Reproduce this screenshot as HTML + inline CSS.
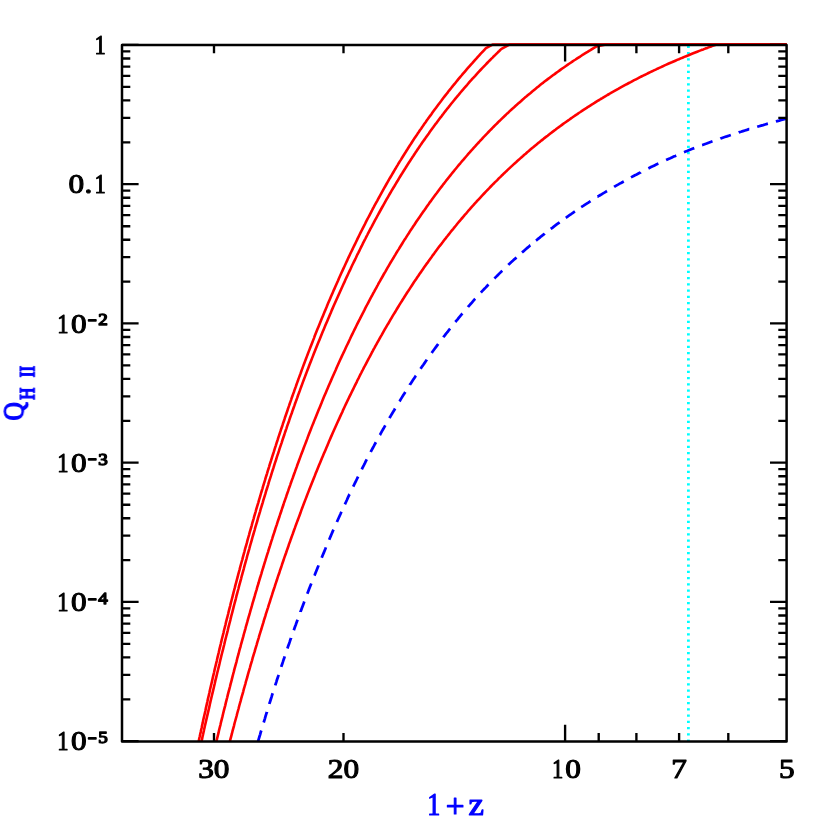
<!DOCTYPE html>
<html><head><meta charset="utf-8"><title>Q_HII vs 1+z</title>
<style>html,body{margin:0;padding:0;background:#fff;width:830px;height:830px;overflow:hidden;font-family:"Liberation Serif",serif}</style></head>
<body>
<svg width="830" height="830" viewBox="0 0 830 830" style="position:absolute;left:0;top:0">
<rect width="830" height="830" fill="#fff"/>
<line x1="688.4" y1="45.8" x2="688.4" y2="741.4" stroke="#00ffff" stroke-width="2.8" stroke-dasharray="2.2 4.05"/>
<path d="M198.7 741.4 L199.3 738.3 L199.8 736.3 L200.2 734.2 L200.7 732.1 L201.1 730.0 L201.6 728.0 L202.0 725.9 L202.7 722.9 L203.3 719.8 L204.0 716.7 L204.7 713.7 L205.4 710.7 L206.0 707.6 L206.7 704.6 L207.4 701.6 L208.0 698.6 L208.7 695.7 L209.4 692.7 L210.0 689.7 L210.7 686.8 L211.4 683.9 L212.1 680.9 L212.7 678.0 L213.4 675.1 L214.1 672.2 L214.7 669.3 L215.4 666.5 L216.1 663.6 L216.8 660.7 L217.4 657.9 L218.1 655.1 L218.8 652.2 L219.4 649.4 L220.1 646.6 L220.8 643.8 L221.4 641.1 L222.1 638.3 L222.8 635.5 L223.5 632.8 L224.1 630.0 L224.8 627.3 L225.5 624.6 L226.1 621.9 L226.8 619.2 L227.5 616.5 L228.2 613.8 L228.8 611.1 L229.5 608.4 L230.2 605.8 L230.8 603.1 L231.5 600.5 L232.2 597.9 L232.9 595.2 L233.5 592.6 L234.2 590.0 L234.9 587.4 L235.5 584.9 L236.2 582.3 L236.9 579.7 L237.6 577.2 L238.2 574.6 L238.9 572.1 L239.6 569.6 L240.2 567.1 L240.9 564.5 L241.6 562.0 L242.3 559.6 L242.9 557.1 L243.6 554.6 L244.3 552.1 L244.9 549.7 L245.6 547.2 L246.3 544.8 L247.0 542.4 L247.6 539.9 L248.3 537.5 L249.0 535.1 L249.6 532.7 L250.3 530.3 L251.0 528.0 L251.7 525.6 L252.3 523.2 L253.0 520.9 L253.7 518.5 L254.3 516.2 L255.0 513.9 L255.7 511.5 L256.3 509.2 L257.0 506.9 L257.7 504.6 L258.4 502.3 L259.0 500.1 L259.7 497.8 L260.4 495.5 L261.0 493.3 L261.7 491.0 L262.4 488.8 L263.0 486.6 L263.7 484.3 L264.4 482.1 L265.1 479.9 L265.7 477.7 L266.4 475.5 L267.1 473.3 L267.7 471.2 L268.4 469.0 L269.1 466.8 L269.7 464.7 L270.4 462.5 L271.1 460.4 L271.7 458.3 L272.4 456.1 L273.1 454.0 L273.8 451.9 L274.4 449.8 L275.1 447.7 L275.8 445.6 L276.4 443.6 L277.1 441.5 L277.8 439.4 L278.4 437.4 L279.1 435.3 L279.8 433.3 L280.5 431.2 L281.1 429.2 L281.8 427.2 L282.5 425.2 L283.1 423.2 L283.8 421.2 L284.5 419.2 L285.1 417.2 L285.8 415.2 L286.5 413.2 L287.2 411.3 L287.8 409.3 L288.5 407.4 L289.2 405.4 L289.8 403.5 L290.5 401.6 L291.2 399.6 L291.8 397.7 L292.5 395.8 L293.2 393.9 L293.9 392.0 L294.5 390.1 L295.2 388.2 L295.9 386.4 L296.5 384.5 L297.2 382.6 L297.9 380.8 L298.5 378.9 L299.2 377.1 L299.9 375.2 L300.6 373.4 L301.4 371.0 L302.3 368.6 L303.2 366.1 L304.1 363.8 L305.0 361.4 L305.9 359.0 L306.8 356.6 L307.7 354.3 L308.6 351.9 L309.5 349.6 L310.4 347.3 L311.3 345.0 L312.2 342.7 L313.1 340.4 L314.0 338.1 L314.8 335.8 L315.7 333.6 L316.6 331.3 L317.5 329.1 L318.4 326.9 L319.3 324.7 L320.2 322.5 L321.1 320.3 L322.0 318.1 L322.9 315.9 L323.8 313.8 L324.7 311.6 L325.6 309.5 L326.5 307.3 L327.3 305.2 L328.2 303.1 L329.1 301.0 L330.0 298.9 L330.9 296.8 L331.8 294.7 L332.7 292.7 L333.6 290.6 L334.5 288.6 L335.4 286.5 L336.3 284.5 L337.2 282.5 L338.1 280.5 L338.9 278.5 L339.8 276.5 L340.7 274.5 L341.6 272.5 L342.5 270.6 L343.4 268.6 L344.3 266.7 L345.2 264.8 L346.1 262.8 L347.0 260.9 L347.8 259.0 L348.7 257.1 L349.6 255.2 L350.5 253.3 L351.4 251.5 L352.3 249.6 L353.2 247.7 L354.1 245.9 L355.0 244.1 L355.9 242.2 L356.8 240.4 L357.6 238.6 L358.5 236.8 L359.4 235.0 L360.3 233.2 L361.2 231.4 L362.1 229.7 L363.0 227.9 L363.9 226.1 L364.8 224.4 L365.6 222.7 L366.5 220.9 L367.4 219.2 L368.3 217.5 L369.2 215.8 L370.1 214.1 L371.0 212.4 L371.9 210.7 L372.7 209.0 L373.6 207.4 L374.5 205.7 L375.4 204.0 L376.3 202.4 L377.2 200.8 L378.1 199.1 L379.0 197.5 L379.9 195.9 L381.0 193.9 L382.1 191.9 L383.2 189.9 L384.3 187.9 L385.4 186.0 L386.5 184.0 L387.6 182.1 L388.7 180.1 L389.8 178.2 L391.0 176.3 L392.1 174.4 L393.2 172.5 L394.3 170.6 L395.4 168.8 L396.5 166.9 L397.6 165.1 L398.7 163.2 L399.8 161.4 L401.0 159.6 L402.1 157.8 L403.2 156.0 L404.3 154.2 L405.4 152.5 L406.5 150.7 L407.6 149.0 L408.7 147.2 L409.8 145.5 L411.0 143.8 L412.1 142.0 L413.2 140.3 L414.3 138.6 L415.4 137.0 L416.6 135.3 L417.7 133.6 L418.8 132.0 L419.9 130.3 L421.1 128.7 L422.2 127.1 L423.3 125.4 L424.4 123.8 L425.6 122.2 L426.7 120.6 L427.8 119.1 L428.9 117.5 L430.1 115.9 L431.2 114.4 L432.3 112.8 L433.4 111.3 L434.5 109.8 L435.7 108.2 L436.8 106.7 L437.9 105.2 L439.0 103.7 L440.2 102.2 L441.3 100.8 L442.4 99.3 L443.5 97.8 L444.6 96.4 L445.8 94.9 L446.9 93.5 L448.0 92.1 L449.1 90.6 L450.3 89.2 L451.4 87.8 L452.5 86.4 L453.6 85.0 L454.8 83.7 L456.1 82.0 L457.4 80.4 L458.8 78.7 L460.1 77.1 L461.5 75.5 L462.8 73.9 L464.2 72.3 L465.5 70.8 L466.9 69.2 L468.2 67.7 L469.6 66.1 L470.9 64.6 L472.3 63.1 L473.6 61.6 L474.9 60.1 L476.3 58.6 L477.6 57.1 L479.0 55.6 L480.3 54.1 L481.7 52.7 L483.0 51.3 L484.4 49.8 L485.7 48.4 L486.0 48.1 L492.5 44.6 L786.6 44.6" fill="none" stroke="#ff0000" stroke-width="2.6" stroke-linejoin="round"/>
<path d="M201.5 741.4 L202.1 738.9 L202.5 736.8 L203.0 734.7 L203.4 732.7 L203.9 730.6 L204.3 728.6 L205.0 725.5 L205.7 722.5 L206.4 719.4 L207.1 716.4 L207.8 713.4 L208.5 710.4 L209.2 707.4 L209.8 704.4 L210.5 701.4 L211.2 698.5 L211.9 695.5 L212.6 692.6 L213.3 689.7 L214.0 686.7 L214.7 683.8 L215.3 680.9 L216.0 678.1 L216.7 675.2 L217.4 672.3 L218.1 669.5 L218.8 666.6 L219.5 663.8 L220.1 661.0 L220.8 658.1 L221.5 655.3 L222.2 652.5 L222.9 649.8 L223.6 647.0 L224.3 644.2 L224.9 641.5 L225.6 638.7 L226.3 636.0 L227.0 633.3 L227.7 630.6 L228.3 627.9 L229.0 625.2 L229.7 622.5 L230.4 619.8 L231.0 617.1 L231.7 614.5 L232.4 611.8 L233.1 609.2 L233.7 606.6 L234.4 604.0 L235.1 601.4 L235.8 598.8 L236.4 596.2 L237.1 593.6 L237.8 591.0 L238.5 588.5 L239.1 585.9 L239.8 583.4 L240.5 580.9 L241.2 578.3 L241.8 575.8 L242.5 573.3 L243.2 570.8 L243.9 568.3 L244.5 565.9 L245.2 563.4 L245.9 560.9 L246.6 558.5 L247.2 556.0 L247.9 553.6 L248.6 551.2 L249.3 548.8 L249.9 546.4 L250.6 544.0 L251.3 541.6 L252.0 539.2 L252.6 536.8 L253.3 534.5 L254.0 532.1 L254.7 529.8 L255.3 527.4 L256.0 525.1 L256.7 522.8 L257.4 520.5 L258.0 518.2 L258.7 515.9 L259.4 513.6 L260.1 511.3 L260.7 509.0 L261.4 506.8 L262.1 504.5 L262.8 502.3 L263.4 500.0 L264.1 497.8 L264.8 495.6 L265.5 493.4 L266.1 491.2 L266.8 489.0 L267.5 486.8 L268.2 484.6 L268.8 482.4 L269.5 480.2 L270.2 478.1 L270.9 475.9 L271.5 473.8 L272.2 471.7 L272.9 469.5 L273.6 467.4 L274.2 465.3 L274.9 463.2 L275.6 461.1 L276.3 459.0 L276.9 456.9 L277.6 454.9 L278.3 452.8 L279.0 450.7 L279.6 448.7 L280.3 446.6 L281.0 444.6 L281.7 442.6 L282.3 440.6 L283.0 438.5 L283.7 436.5 L284.4 434.5 L285.0 432.5 L285.7 430.5 L286.4 428.6 L287.0 426.6 L287.7 424.6 L288.4 422.7 L289.1 420.7 L289.7 418.8 L290.4 416.8 L291.1 414.9 L291.8 413.0 L292.4 411.1 L293.1 409.2 L293.8 407.3 L294.5 405.4 L295.1 403.5 L295.8 401.6 L296.5 399.7 L297.2 397.9 L297.8 396.0 L298.5 394.1 L299.2 392.3 L299.9 390.4 L300.5 388.6 L301.2 386.8 L302.1 384.4 L303.0 381.9 L303.9 379.5 L304.8 377.1 L305.7 374.8 L306.6 372.4 L307.5 370.0 L308.4 367.7 L309.3 365.3 L310.2 363.0 L311.1 360.7 L312.0 358.4 L312.9 356.1 L313.8 353.8 L314.7 351.6 L315.6 349.3 L316.5 347.1 L317.4 344.8 L318.3 342.6 L319.2 340.4 L320.1 338.2 L321.0 336.0 L321.9 333.8 L322.8 331.6 L323.7 329.4 L324.6 327.3 L325.5 325.1 L326.4 323.0 L327.3 320.9 L328.2 318.8 L329.1 316.7 L330.0 314.6 L330.9 312.5 L331.7 310.4 L332.6 308.4 L333.5 306.3 L334.4 304.3 L335.3 302.2 L336.2 300.2 L337.1 298.2 L338.0 296.2 L338.9 294.2 L339.8 292.2 L340.7 290.2 L341.6 288.2 L342.5 286.3 L343.4 284.3 L344.3 282.4 L345.1 280.5 L346.0 278.5 L346.9 276.6 L347.8 274.7 L348.7 272.8 L349.6 270.9 L350.5 269.1 L351.3 267.2 L352.2 265.3 L353.1 263.5 L354.0 261.6 L354.9 259.8 L355.8 258.0 L356.6 256.2 L357.5 254.3 L358.4 252.6 L359.3 250.8 L360.2 249.0 L361.1 247.2 L362.0 245.4 L362.8 243.7 L363.7 241.9 L364.6 240.2 L365.5 238.5 L366.4 236.7 L367.3 235.0 L368.1 233.3 L369.0 231.6 L369.9 229.9 L370.8 228.2 L371.7 226.6 L372.6 224.9 L373.5 223.2 L374.3 221.6 L375.2 219.9 L376.1 218.3 L377.0 216.7 L377.9 215.0 L379.0 213.0 L380.1 211.0 L381.2 209.0 L382.3 207.0 L383.4 205.1 L384.5 203.1 L385.6 201.2 L386.7 199.2 L387.8 197.3 L388.9 195.4 L390.0 193.5 L391.1 191.6 L392.2 189.7 L393.4 187.8 L394.5 186.0 L395.6 184.1 L396.7 182.3 L397.8 180.5 L398.9 178.6 L400.0 176.8 L401.1 175.0 L402.2 173.3 L403.3 171.5 L404.4 169.7 L405.5 168.0 L406.6 166.2 L407.7 164.5 L408.8 162.8 L410.0 161.0 L411.1 159.3 L412.2 157.6 L413.3 156.0 L414.4 154.3 L415.5 152.6 L416.6 151.0 L417.7 149.3 L418.8 147.7 L419.9 146.1 L421.0 144.4 L422.1 142.8 L423.2 141.2 L424.4 139.6 L425.5 138.1 L426.6 136.5 L427.7 134.9 L428.8 133.4 L429.9 131.8 L431.0 130.3 L432.1 128.8 L433.2 127.3 L434.3 125.7 L435.4 124.2 L436.6 122.8 L437.7 121.3 L438.8 119.8 L439.9 118.3 L441.0 116.9 L442.1 115.4 L443.2 114.0 L444.3 112.5 L445.4 111.1 L446.5 109.7 L447.6 108.3 L448.8 106.9 L449.9 105.5 L451.2 103.8 L452.5 102.2 L453.9 100.5 L455.2 98.9 L456.5 97.3 L457.9 95.7 L459.2 94.1 L460.5 92.5 L461.9 90.9 L463.2 89.4 L464.5 87.8 L465.8 86.3 L467.2 84.8 L468.5 83.2 L469.8 81.7 L471.2 80.2 L472.5 78.7 L473.8 77.3 L475.2 75.8 L476.5 74.3 L477.8 72.9 L479.2 71.4 L480.5 70.0 L481.8 68.6 L483.2 67.2 L484.5 65.8 L485.9 64.4 L487.2 63.0 L488.5 61.6 L489.9 60.3 L491.2 58.9 L492.6 57.6 L493.9 56.2 L495.3 54.9 L496.6 53.6 L497.9 52.3 L499.3 51.0 L500.6 49.7 L501.5 48.8 L509.4 44.6 L786.6 44.6" fill="none" stroke="#ff0000" stroke-width="2.6" stroke-linejoin="round"/>
<path d="M216.4 741.4 L217.1 738.5 L217.8 735.7 L218.5 732.9 L219.1 730.1 L219.8 727.3 L220.5 724.6 L221.1 721.8 L221.8 719.1 L222.5 716.4 L223.1 713.7 L223.8 710.9 L224.5 708.2 L225.2 705.6 L225.8 702.9 L226.5 700.2 L227.2 697.5 L227.8 694.9 L228.5 692.2 L229.2 689.6 L229.9 687.0 L230.5 684.4 L231.2 681.8 L231.9 679.2 L232.5 676.6 L233.2 674.0 L233.9 671.4 L234.5 668.9 L235.2 666.3 L235.9 663.8 L236.6 661.3 L237.2 658.7 L237.9 656.2 L238.6 653.7 L239.2 651.2 L239.9 648.7 L240.6 646.3 L241.2 643.8 L241.9 641.3 L242.6 638.9 L243.3 636.4 L243.9 634.0 L244.6 631.6 L245.3 629.1 L245.9 626.7 L246.6 624.3 L247.3 621.9 L247.9 619.6 L248.6 617.2 L249.3 614.8 L250.0 612.4 L250.6 610.1 L251.3 607.8 L252.0 605.4 L252.6 603.1 L253.3 600.8 L254.0 598.5 L254.7 596.2 L255.3 593.9 L256.0 591.6 L256.7 589.3 L257.3 587.0 L258.0 584.8 L258.7 582.5 L259.3 580.3 L260.0 578.0 L260.7 575.8 L261.4 573.6 L262.0 571.4 L262.7 569.2 L263.4 567.0 L264.0 564.8 L264.7 562.6 L265.4 560.4 L266.0 558.3 L266.7 556.1 L267.4 553.9 L268.1 551.8 L268.7 549.7 L269.4 547.5 L270.1 545.4 L270.7 543.3 L271.4 541.2 L272.1 539.1 L272.7 537.0 L273.4 534.9 L274.1 532.8 L274.8 530.8 L275.4 528.7 L276.1 526.6 L276.8 524.6 L277.4 522.6 L278.1 520.5 L278.8 518.5 L279.5 516.5 L280.1 514.5 L280.8 512.5 L281.5 510.5 L282.1 508.5 L282.8 506.5 L283.5 504.5 L284.1 502.5 L284.8 500.6 L285.5 498.6 L286.2 496.7 L286.8 494.7 L287.5 492.8 L288.2 490.9 L288.8 488.9 L289.5 487.0 L290.2 485.1 L290.8 483.2 L291.5 481.3 L292.2 479.4 L292.9 477.5 L293.5 475.7 L294.2 473.8 L294.9 471.9 L295.5 470.1 L296.2 468.2 L296.9 466.4 L297.5 464.5 L298.2 462.7 L299.1 460.3 L300.0 457.9 L300.9 455.4 L301.8 453.0 L302.7 450.7 L303.6 448.3 L304.5 445.9 L305.4 443.6 L306.3 441.2 L307.2 438.9 L308.0 436.6 L308.9 434.3 L309.8 432.0 L310.7 429.7 L311.6 427.4 L312.5 425.1 L313.4 422.9 L314.3 420.6 L315.2 418.4 L316.1 416.2 L317.0 414.0 L317.9 411.8 L318.8 409.6 L319.7 407.4 L320.6 405.2 L321.5 403.0 L322.3 400.9 L323.2 398.7 L324.1 396.6 L325.0 394.5 L325.9 392.4 L326.8 390.3 L327.7 388.2 L328.6 386.1 L329.5 384.0 L330.4 381.9 L331.3 379.9 L332.2 377.8 L333.1 375.8 L334.0 373.8 L334.9 371.8 L335.8 369.7 L336.6 367.7 L337.5 365.8 L338.4 363.8 L339.3 361.8 L340.2 359.8 L341.1 357.9 L342.0 355.9 L342.9 354.0 L343.8 352.1 L344.7 350.2 L345.6 348.2 L346.5 346.3 L347.4 344.5 L348.3 342.6 L349.2 340.7 L350.1 338.8 L350.9 337.0 L351.8 335.1 L352.7 333.3 L353.6 331.5 L354.5 329.6 L355.4 327.8 L356.3 326.0 L357.2 324.2 L358.1 322.4 L359.0 320.6 L359.9 318.9 L360.8 317.1 L361.7 315.3 L362.6 313.6 L363.5 311.9 L364.4 310.1 L365.2 308.4 L366.1 306.7 L367.0 305.0 L367.9 303.3 L368.8 301.6 L369.7 299.9 L370.6 298.2 L371.5 296.5 L372.4 294.9 L373.3 293.2 L374.2 291.6 L375.1 289.9 L376.0 288.3 L376.9 286.7 L377.8 285.0 L378.6 283.4 L379.8 281.4 L380.9 279.4 L382.0 277.5 L383.1 275.5 L384.2 273.5 L385.4 271.6 L386.5 269.6 L387.6 267.7 L388.7 265.8 L389.8 263.9 L390.9 262.0 L392.1 260.1 L393.2 258.3 L394.3 256.4 L395.4 254.6 L396.5 252.7 L397.6 250.9 L398.8 249.1 L399.9 247.3 L401.0 245.5 L402.1 243.7 L403.2 241.9 L404.3 240.1 L405.5 238.4 L406.6 236.6 L407.7 234.9 L408.8 233.2 L409.9 231.4 L411.0 229.7 L412.2 228.0 L413.3 226.3 L414.4 224.7 L415.5 223.0 L416.6 221.3 L417.7 219.7 L418.9 218.0 L420.0 216.4 L421.1 214.8 L422.2 213.2 L423.3 211.6 L424.5 210.0 L425.6 208.4 L426.7 206.8 L427.8 205.2 L428.9 203.7 L430.0 202.1 L431.2 200.6 L432.3 199.0 L433.4 197.5 L434.5 196.0 L435.6 194.5 L436.8 193.0 L437.9 191.5 L439.0 190.0 L440.1 188.5 L441.2 187.1 L442.4 185.6 L443.5 184.1 L444.6 182.7 L445.7 181.3 L446.8 179.8 L448.0 178.4 L449.1 177.0 L450.2 175.6 L451.3 174.2 L452.4 172.8 L453.6 171.4 L454.9 169.8 L456.2 168.2 L457.6 166.5 L458.9 164.9 L460.3 163.3 L461.6 161.7 L463.0 160.2 L464.3 158.6 L465.7 157.0 L467.0 155.5 L468.3 153.9 L469.7 152.4 L471.0 150.9 L472.4 149.4 L473.7 147.9 L475.1 146.4 L476.4 144.9 L477.8 143.4 L479.1 142.0 L480.4 140.5 L481.8 139.1 L483.1 137.6 L484.5 136.2 L485.8 134.8 L487.2 133.4 L488.5 132.0 L489.8 130.6 L491.2 129.3 L492.5 127.9 L493.9 126.5 L495.2 125.2 L496.6 123.8 L497.9 122.5 L499.2 121.2 L500.6 119.9 L501.9 118.6 L503.3 117.3 L504.6 116.0 L506.0 114.7 L507.3 113.4 L508.7 112.2 L510.0 110.9 L511.3 109.7 L512.7 108.4 L514.1 107.2 L515.4 106.0 L516.8 104.8 L518.1 103.6 L519.5 102.4 L520.9 101.2 L522.2 100.0 L523.6 98.8 L524.9 97.6 L526.3 96.5 L527.7 95.3 L529.0 94.2 L530.6 92.9 L532.2 91.5 L533.8 90.2 L535.4 88.9 L537.0 87.6 L538.5 86.4 L540.1 85.1 L541.7 83.8 L543.3 82.6 L544.9 81.3 L546.5 80.1 L548.1 78.9 L549.7 77.7 L551.3 76.5 L552.9 75.3 L554.6 74.1 L556.2 72.9 L557.8 71.8 L559.4 70.6 L561.0 69.4 L562.6 68.3 L564.2 67.2 L565.9 66.0 L567.5 64.9 L569.1 63.8 L570.7 62.7 L572.3 61.6 L573.9 60.5 L575.6 59.5 L577.2 58.4 L578.9 57.3 L580.5 56.3 L582.1 55.2 L583.8 54.2 L585.4 53.2 L587.1 52.2 L588.7 51.1 L590.4 50.1 L592.0 49.1 L593.6 48.1 L595.3 47.2 L596.2 46.6 L606.0 44.6 L786.6 44.6" fill="none" stroke="#ff0000" stroke-width="2.6" stroke-linejoin="round"/>
<path d="M229.9 741.4 L230.5 738.9 L231.2 736.3 L231.9 733.7 L232.5 731.2 L233.2 728.6 L233.9 726.1 L234.5 723.5 L235.2 721.0 L235.9 718.5 L236.6 716.0 L237.2 713.5 L237.9 711.0 L238.6 708.5 L239.2 706.0 L239.9 703.5 L240.6 701.1 L241.2 698.6 L241.9 696.2 L242.6 693.8 L243.3 691.3 L243.9 688.9 L244.6 686.5 L245.3 684.1 L245.9 681.7 L246.6 679.3 L247.3 677.0 L247.9 674.6 L248.6 672.2 L249.3 669.9 L250.0 667.5 L250.6 665.2 L251.3 662.9 L252.0 660.6 L252.6 658.2 L253.3 655.9 L254.0 653.7 L254.7 651.4 L255.3 649.1 L256.0 646.8 L256.7 644.6 L257.3 642.3 L258.0 640.1 L258.7 637.8 L259.3 635.6 L260.0 633.4 L260.7 631.2 L261.4 629.0 L262.0 626.8 L262.7 624.6 L263.4 622.4 L264.0 620.2 L264.7 618.0 L265.4 615.9 L266.0 613.7 L266.7 611.6 L267.4 609.4 L268.1 607.3 L268.7 605.2 L269.4 603.1 L270.1 601.0 L270.7 598.9 L271.4 596.8 L272.1 594.7 L272.7 592.6 L273.4 590.5 L274.1 588.5 L274.8 586.4 L275.4 584.4 L276.1 582.3 L276.8 580.3 L277.4 578.3 L278.1 576.2 L278.8 574.2 L279.5 572.2 L280.1 570.2 L280.8 568.2 L281.5 566.2 L282.1 564.3 L282.8 562.3 L283.5 560.3 L284.1 558.4 L284.8 556.4 L285.5 554.5 L286.2 552.5 L286.8 550.6 L287.5 548.7 L288.2 546.8 L288.8 544.8 L289.5 542.9 L290.2 541.0 L290.8 539.2 L291.5 537.3 L292.2 535.4 L292.9 533.5 L293.5 531.7 L294.2 529.8 L294.9 527.9 L295.5 526.1 L296.2 524.3 L296.9 522.4 L297.8 520.0 L298.7 517.6 L299.6 515.2 L300.5 512.8 L301.3 510.4 L302.2 508.0 L303.1 505.6 L304.0 503.3 L304.9 500.9 L305.8 498.6 L306.7 496.3 L307.6 493.9 L308.5 491.6 L309.4 489.3 L310.3 487.1 L311.2 484.8 L312.1 482.5 L313.0 480.3 L313.9 478.0 L314.8 475.8 L315.6 473.6 L316.5 471.4 L317.4 469.2 L318.3 467.0 L319.2 464.8 L320.1 462.7 L321.0 460.5 L321.9 458.3 L322.8 456.2 L323.7 454.1 L324.6 452.0 L325.5 449.9 L326.4 447.8 L327.3 445.7 L328.2 443.6 L329.0 441.5 L329.9 439.4 L330.8 437.4 L331.7 435.4 L332.6 433.3 L333.5 431.3 L334.4 429.3 L335.3 427.3 L336.2 425.3 L337.1 423.3 L338.0 421.3 L338.9 419.4 L339.8 417.4 L340.7 415.4 L341.6 413.5 L342.5 411.6 L343.3 409.6 L344.2 407.7 L345.1 405.8 L346.0 403.9 L346.9 402.0 L347.8 400.2 L348.7 398.3 L349.6 396.4 L350.5 394.6 L351.4 392.7 L352.3 390.9 L353.2 389.1 L354.1 387.2 L355.0 385.4 L355.9 383.6 L356.8 381.8 L357.6 380.0 L358.5 378.3 L359.4 376.5 L360.3 374.7 L361.2 373.0 L362.1 371.2 L363.0 369.5 L363.9 367.7 L364.8 366.0 L365.7 364.3 L366.6 362.6 L367.5 360.9 L368.4 359.2 L369.3 357.5 L370.2 355.8 L371.1 354.2 L371.9 352.5 L372.8 350.9 L373.7 349.2 L374.6 347.6 L375.5 345.9 L376.4 344.3 L377.3 342.7 L378.2 341.1 L379.3 339.1 L380.4 337.1 L381.6 335.1 L382.7 333.1 L383.8 331.2 L384.9 329.2 L386.0 327.3 L387.1 325.4 L388.3 323.5 L389.4 321.6 L390.5 319.7 L391.6 317.8 L392.7 315.9 L393.8 314.1 L395.0 312.2 L396.1 310.4 L397.2 308.5 L398.3 306.7 L399.4 304.9 L400.5 303.1 L401.7 301.3 L402.8 299.5 L403.9 297.8 L405.0 296.0 L406.1 294.3 L407.2 292.5 L408.4 290.8 L409.5 289.1 L410.6 287.4 L411.7 285.7 L412.8 284.0 L413.9 282.3 L415.1 280.6 L416.2 279.0 L417.3 277.3 L418.4 275.7 L419.5 274.0 L420.7 272.4 L421.8 270.8 L422.9 269.2 L424.0 267.6 L425.1 266.0 L426.2 264.4 L427.4 262.9 L428.5 261.3 L429.6 259.7 L430.7 258.2 L431.8 256.7 L432.9 255.1 L434.1 253.6 L435.2 252.1 L436.3 250.6 L437.4 249.1 L438.5 247.6 L439.6 246.1 L440.8 244.7 L441.9 243.2 L443.0 241.8 L444.1 240.3 L445.2 238.9 L446.3 237.4 L447.5 236.0 L448.6 234.6 L449.7 233.2 L450.8 231.8 L451.9 230.4 L453.3 228.8 L454.6 227.1 L456.0 225.5 L457.3 223.8 L458.6 222.2 L460.0 220.6 L461.3 219.0 L462.7 217.5 L464.0 215.9 L465.3 214.3 L466.7 212.8 L468.0 211.2 L469.4 209.7 L470.7 208.2 L472.0 206.7 L473.4 205.2 L474.7 203.7 L476.1 202.2 L477.4 200.7 L478.7 199.3 L480.1 197.8 L481.4 196.4 L482.8 194.9 L484.1 193.5 L485.4 192.1 L486.8 190.7 L488.1 189.3 L489.5 187.9 L490.8 186.5 L492.1 185.1 L493.5 183.8 L494.8 182.4 L496.2 181.1 L497.5 179.8 L498.8 178.4 L500.2 177.1 L501.5 175.8 L502.9 174.5 L504.2 173.2 L505.6 171.9 L506.9 170.7 L508.2 169.4 L509.6 168.1 L510.9 166.9 L512.3 165.6 L513.6 164.4 L514.9 163.2 L516.3 162.0 L517.6 160.8 L519.0 159.6 L520.3 158.4 L521.6 157.2 L523.0 156.0 L524.3 154.8 L525.7 153.7 L527.2 152.3 L528.8 151.0 L530.4 149.6 L531.9 148.3 L533.5 147.0 L535.0 145.7 L536.6 144.4 L538.2 143.1 L539.7 141.9 L541.3 140.6 L542.9 139.4 L544.4 138.1 L546.0 136.9 L547.6 135.7 L549.1 134.5 L550.7 133.2 L552.2 132.1 L553.8 130.9 L555.4 129.7 L556.9 128.5 L558.5 127.4 L560.1 126.2 L561.6 125.1 L563.2 123.9 L564.8 122.8 L566.3 121.7 L567.9 120.6 L569.5 119.5 L571.0 118.4 L572.6 117.3 L574.1 116.2 L575.7 115.1 L577.3 114.1 L578.8 113.0 L580.4 112.0 L582.0 110.9 L583.5 109.9 L585.1 108.9 L586.7 107.9 L588.2 106.8 L589.8 105.8 L591.3 104.8 L592.9 103.9 L594.5 102.9 L596.0 101.9 L597.6 100.9 L599.2 100.0 L600.7 99.0 L602.3 98.1 L603.9 97.1 L605.6 96.1 L607.4 95.0 L609.2 94.0 L611.0 92.9 L612.8 91.9 L614.6 90.9 L616.4 89.9 L618.2 88.9 L619.9 87.9 L621.7 86.9 L623.5 85.9 L625.3 84.9 L627.1 84.0 L628.9 83.0 L630.7 82.1 L632.5 81.1 L634.2 80.2 L636.0 79.3 L637.8 78.4 L639.6 77.4 L641.4 76.5 L643.2 75.6 L645.0 74.8 L646.8 73.9 L648.5 73.0 L650.3 72.1 L652.1 71.3 L653.9 70.4 L655.7 69.6 L657.5 68.7 L659.3 67.9 L661.1 67.1 L662.8 66.3 L664.6 65.4 L666.4 64.6 L668.2 63.8 L670.0 63.0 L671.8 62.3 L673.6 61.5 L675.4 60.7 L677.1 59.9 L678.9 59.2 L680.7 58.4 L682.5 57.7 L684.3 56.9 L686.1 56.2 L687.9 55.5 L689.7 54.7 L691.4 54.0 L693.2 53.3 L695.2 52.5 L697.2 51.7 L699.3 50.9 L701.3 50.1 L703.3 49.4 L705.3 48.6 L707.3 47.9 L709.3 47.1 L711.3 46.4 L713.3 45.6 L715.3 44.9 L716.0 44.6 L716.1 44.6 L786.6 44.6" fill="none" stroke="#ff0000" stroke-width="2.6" stroke-linejoin="round"/>
<path d="M258.1 741.2 L258.8 738.8 L259.5 736.5 L260.2 734.3 L260.8 732.0 L261.3 730.5 M263.7 722.5 L264.2 720.8 L264.9 718.6 L265.5 716.4 L266.2 714.2 L266.9 712.0 L266.9 711.9 M269.4 703.9 L269.5 703.3 L270.2 701.2 L270.9 699.0 L271.6 696.9 L272.2 694.7 L272.7 693.3 M275.2 685.4 L275.6 684.2 L276.3 682.1 L276.9 680.0 L277.6 678.0 L278.3 675.9 L278.6 674.8 M281.2 666.9 L281.6 665.7 L282.3 663.7 L283.0 661.7 L283.6 659.7 L284.3 657.7 L284.7 656.4 M287.4 648.5 L287.6 647.8 L288.3 645.8 L289.0 643.9 L289.7 641.9 L290.3 640.0 L291.0 638.1 L291.0 638.0 M293.8 630.2 L294.4 628.5 L295.1 626.6 L295.8 624.7 L296.4 622.9 L297.1 621.0 L297.6 619.7 M300.5 611.9 L300.5 611.8 L301.2 609.9 L301.9 608.1 L302.8 605.7 L303.7 603.3 L304.3 601.5 M307.3 593.8 L308.2 591.4 L309.1 589.1 L310.0 586.7 L310.9 584.4 L311.3 583.4 M314.4 575.7 L314.6 575.3 L315.5 573.0 L316.4 570.7 L317.3 568.5 L318.2 566.3 L318.5 565.4 M321.7 557.7 L321.8 557.4 L322.7 555.2 L323.6 553.1 L324.5 550.9 L325.4 548.8 L325.9 547.4 M329.2 539.8 L329.8 538.2 L330.7 536.1 L331.6 534.0 L332.5 531.9 L333.4 529.8 L333.5 529.6 M336.9 522.0 L337.0 521.7 L337.9 519.7 L338.8 517.7 L339.7 515.7 L340.6 513.7 L341.4 511.8 M344.9 504.3 L345.1 503.9 L346.0 502.0 L346.9 500.0 L347.7 498.1 L348.6 496.2 L349.5 494.3 L349.6 494.2 M353.2 486.7 L354.0 485.0 L354.9 483.1 L355.8 481.3 L356.7 479.5 L357.6 477.7 L358.1 476.7 M361.8 469.3 L362.1 468.7 L363.0 466.9 L363.9 465.2 L364.8 463.4 L365.6 461.7 L366.5 459.9 L366.8 459.4 M370.7 452.0 L371.0 451.4 L371.9 449.7 L372.8 448.0 L373.7 446.4 L374.6 444.7 L375.5 443.0 L375.9 442.3 M379.9 435.0 L380.0 434.9 L380.9 433.2 L382.0 431.2 L383.1 429.3 L384.2 427.3 L385.3 425.3 L385.3 425.3 M389.5 418.1 L389.8 417.5 L390.9 415.6 L392.0 413.7 L393.2 411.8 L394.3 410.0 L395.1 408.5 M399.4 401.4 L399.9 400.7 L401.0 398.9 L402.1 397.1 L403.2 395.3 L404.4 393.5 L405.3 392.0 M409.8 385.0 L409.9 384.7 L411.1 383.0 L412.2 381.3 L413.3 379.6 L414.4 377.9 L415.5 376.2 L415.9 375.7 M420.5 368.8 L421.1 367.9 L422.2 366.3 L423.4 364.7 L424.5 363.1 L425.6 361.5 L426.7 359.9 L426.8 359.7 M431.7 352.9 L432.3 352.0 L433.4 350.5 L434.5 349.0 L435.7 347.4 L436.8 345.9 L437.9 344.4 L438.2 344.0 M443.3 337.3 L443.5 337.0 L444.6 335.6 L445.7 334.1 L446.9 332.7 L448.0 331.3 L449.1 329.8 L450.1 328.6 M455.3 322.0 L456.0 321.2 L457.4 319.6 L458.7 317.9 L460.0 316.3 L461.4 314.7 L462.4 313.5 M467.9 307.1 L468.1 306.8 L469.4 305.3 L470.8 303.8 L472.1 302.3 L473.5 300.7 L474.8 299.2 L475.2 298.8 M480.9 292.6 L481.5 291.9 L482.9 290.4 L484.2 289.0 L485.6 287.6 L486.9 286.2 L488.2 284.8 L488.5 284.5 M494.4 278.5 L495.0 277.9 L496.3 276.6 L497.7 275.2 L499.0 273.9 L500.3 272.6 L501.7 271.2 L502.3 270.7 M508.3 264.9 L508.4 264.8 L509.8 263.5 L511.1 262.3 L512.5 261.1 L513.8 259.8 L515.2 258.6 L516.5 257.4 L516.5 257.4 M522.0 252.5 L523.3 251.4 L524.6 250.2 L526.0 249.0 L527.3 247.9 L528.7 246.7 L530.2 245.4 L530.4 245.3 M536.0 240.6 L536.5 240.2 L538.1 238.9 L539.7 237.6 L541.2 236.3 L542.8 235.1 L544.4 233.9 L544.7 233.6 M550.7 228.9 L552.3 227.8 L553.8 226.6 L555.4 225.4 L557.0 224.2 L558.5 223.1 L559.6 222.3 M565.8 217.8 L566.4 217.4 L567.9 216.3 L569.5 215.2 L571.1 214.1 L572.6 213.0 L574.2 211.9 L574.9 211.4 M581.2 207.1 L582.0 206.6 L583.6 205.6 L585.1 204.6 L586.7 203.6 L588.3 202.6 L589.8 201.6 L590.5 201.1 M597.5 196.7 L597.6 196.7 L599.2 195.7 L600.8 194.8 L602.3 193.8 L603.9 192.9 L605.7 191.8 L607.0 191.0 M614.1 186.9 L614.5 186.6 L616.2 185.6 L618.0 184.6 L619.7 183.6 L621.5 182.7 L623.2 181.7 L623.8 181.4 M631.0 177.4 L631.9 176.9 L633.6 176.0 L635.4 175.1 L637.1 174.2 L638.8 173.3 L640.6 172.4 L640.8 172.2 M648.4 168.4 L649.2 168.0 L651.0 167.1 L652.7 166.3 L654.5 165.4 L656.2 164.6 L657.9 163.8 L658.4 163.6 M666.1 160.0 L666.7 159.7 L668.4 158.9 L670.2 158.2 L671.9 157.4 L673.7 156.6 L675.4 155.9 L676.2 155.5 M684.0 152.2 L685.0 151.8 L687.0 151.0 L688.8 150.2 L690.6 149.5 L692.4 148.8 L694.3 148.1 M702.1 145.1 L702.5 145.0 L704.5 144.2 L706.6 143.5 L708.6 142.7 L710.6 142.0 L712.5 141.3 M720.3 138.6 L720.7 138.4 L722.7 137.7 L724.7 137.0 L726.8 136.4 L728.8 135.7 L730.8 135.0 L730.8 135.0 M738.7 132.5 L738.9 132.4 L740.9 131.8 L742.9 131.1 L744.9 130.5 L746.9 129.9 L749.0 129.2 L749.3 129.2 M757.2 126.8 L759.1 126.2 L761.1 125.6 L763.1 125.1 L765.1 124.5 L767.1 123.9 L767.9 123.7 M775.9 121.5 L777.2 121.1 L779.2 120.6 L781.3 120.0 L783.3 119.5 L785.3 119.0 L786.2 118.7 L786.4 118.7 L786.6 118.6" fill="none" stroke="#0000ff" stroke-width="2.75"/>
<path d="M214.0 741.4 v-8.3 M214.0 45.0 v8.3 M343.5 741.4 v-8.3 M343.5 45.0 v8.3 M598.7 741.4 v-8.3 M598.7 45.0 v8.3 M636.4 741.4 v-8.3 M636.4 45.0 v8.3 M679.1 741.4 v-8.3 M679.1 45.0 v8.3 M728.3 741.4 v-8.3 M728.3 45.0 v8.3 M565.1 741.4 v-16.6 M565.1 45.0 v16.6 M122.0 142.3 h8.3 M786.6 142.3 h-8.3 M122.0 117.8 h8.3 M786.6 117.8 h-8.3 M122.0 100.4 h8.3 M786.6 100.4 h-8.3 M122.0 86.9 h8.3 M786.6 86.9 h-8.3 M122.0 75.9 h8.3 M786.6 75.9 h-8.3 M122.0 66.6 h8.3 M786.6 66.6 h-8.3 M122.0 58.5 h8.3 M786.6 58.5 h-8.3 M122.0 51.4 h8.3 M786.6 51.4 h-8.3 M122.0 281.6 h8.3 M786.6 281.6 h-8.3 M122.0 257.1 h8.3 M786.6 257.1 h-8.3 M122.0 239.7 h8.3 M786.6 239.7 h-8.3 M122.0 226.2 h8.3 M786.6 226.2 h-8.3 M122.0 215.1 h8.3 M786.6 215.1 h-8.3 M122.0 205.8 h8.3 M786.6 205.8 h-8.3 M122.0 197.7 h8.3 M786.6 197.7 h-8.3 M122.0 190.6 h8.3 M786.6 190.6 h-8.3 M122.0 420.8 h8.3 M786.6 420.8 h-8.3 M122.0 396.3 h8.3 M786.6 396.3 h-8.3 M122.0 378.9 h8.3 M786.6 378.9 h-8.3 M122.0 365.4 h8.3 M786.6 365.4 h-8.3 M122.0 354.4 h8.3 M786.6 354.4 h-8.3 M122.0 345.1 h8.3 M786.6 345.1 h-8.3 M122.0 337.0 h8.3 M786.6 337.0 h-8.3 M122.0 329.9 h8.3 M786.6 329.9 h-8.3 M122.0 560.1 h8.3 M786.6 560.1 h-8.3 M122.0 535.6 h8.3 M786.6 535.6 h-8.3 M122.0 518.2 h8.3 M786.6 518.2 h-8.3 M122.0 504.7 h8.3 M786.6 504.7 h-8.3 M122.0 493.6 h8.3 M786.6 493.6 h-8.3 M122.0 484.3 h8.3 M786.6 484.3 h-8.3 M122.0 476.2 h8.3 M786.6 476.2 h-8.3 M122.0 469.1 h8.3 M786.6 469.1 h-8.3 M122.0 699.3 h8.3 M786.6 699.3 h-8.3 M122.0 674.8 h8.3 M786.6 674.8 h-8.3 M122.0 657.4 h8.3 M786.6 657.4 h-8.3 M122.0 643.9 h8.3 M786.6 643.9 h-8.3 M122.0 632.9 h8.3 M786.6 632.9 h-8.3 M122.0 623.6 h8.3 M786.6 623.6 h-8.3 M122.0 615.5 h8.3 M786.6 615.5 h-8.3 M122.0 608.4 h8.3 M786.6 608.4 h-8.3 M122.0 44.9 h16.6 M786.6 44.9 h-16.6 M122.0 184.1 h16.6 M786.6 184.1 h-16.6 M122.0 323.4 h16.6 M786.6 323.4 h-16.6 M122.0 462.6 h16.6 M786.6 462.6 h-16.6 M122.0 601.9 h16.6 M786.6 601.9 h-16.6 M122.0 741.1 h16.6 M786.6 741.1 h-16.6" fill="none" stroke="#000" stroke-width="2.35"/>
<rect x="122.0" y="45.0" width="664.6" height="696.4" fill="none" stroke="#000" stroke-width="2.5" stroke-linejoin="round"/>
<g font-family="'Liberation Serif', serif" stroke-linejoin="round" style="opacity:0.999">
<text transform="translate(221.60,778.1) scale(1.150,1)" font-size="27.2" text-anchor="middle" fill="#000" stroke="#000" stroke-width="1.10">0</text>
<text transform="translate(206.00,778.1) scale(1.150,1)" font-size="27.2" text-anchor="middle" fill="#000" stroke="#000" stroke-width="1.10">3</text>
<text transform="translate(351.20,778.1) scale(1.150,1)" font-size="27.2" text-anchor="middle" fill="#000" stroke="#000" stroke-width="1.10">0</text>
<text transform="translate(335.60,778.1) scale(1.150,1)" font-size="27.2" text-anchor="middle" fill="#000" stroke="#000" stroke-width="1.10">2</text>
<text transform="translate(573.10,778.1) scale(1.150,1)" font-size="27.2" text-anchor="middle" fill="#000" stroke="#000" stroke-width="1.10">0</text>
<text transform="translate(557.50,778.1) scale(0.828,1)" font-size="27.2" text-anchor="middle" fill="#000" stroke="#000" stroke-width="1.10">1</text>
<text transform="translate(679.10,778.1) scale(1.150,1)" font-size="27.2" text-anchor="middle" fill="#000" stroke="#000" stroke-width="1.10">7</text>
<text transform="translate(786.70,778.1) scale(1.150,1)" font-size="27.2" text-anchor="middle" fill="#000" stroke="#000" stroke-width="1.10">5</text>
<text transform="translate(100.00,54.0) scale(0.828,1)" font-size="27.2" text-anchor="middle" fill="#000" stroke="#000" stroke-width="1.10">1</text>
<text transform="translate(76.20,193.2) scale(1.150,1)" font-size="27.2" text-anchor="middle" fill="#000" stroke="#000" stroke-width="1.10">0</text>
<text transform="translate(88.50,193.2) scale(1.150,1)" font-size="27.2" text-anchor="middle" fill="#000" stroke="#000" stroke-width="1.10">.</text>
<text transform="translate(100.10,193.2) scale(0.828,1)" font-size="27.2" text-anchor="middle" fill="#000" stroke="#000" stroke-width="1.10">1</text>
<text transform="translate(62.90,332.5) scale(0.828,1)" font-size="27.2" text-anchor="middle" fill="#000" stroke="#000" stroke-width="1.10">1</text>
<text transform="translate(78.70,332.5) scale(1.150,1)" font-size="27.2" text-anchor="middle" fill="#000" stroke="#000" stroke-width="1.10">0</text>
<text transform="translate(92.20,326.1) scale(0.920,1)" font-size="17.2" text-anchor="middle" fill="#000" stroke="#000" stroke-width="1.80">&#8722;</text>
<text transform="translate(103.10,325.3) scale(1.120,1)" font-size="17.0" text-anchor="middle" fill="#000" stroke="#000" stroke-width="1.40">2</text>
<text transform="translate(62.90,471.8) scale(0.828,1)" font-size="27.2" text-anchor="middle" fill="#000" stroke="#000" stroke-width="1.10">1</text>
<text transform="translate(78.70,471.8) scale(1.150,1)" font-size="27.2" text-anchor="middle" fill="#000" stroke="#000" stroke-width="1.10">0</text>
<text transform="translate(92.20,465.4) scale(0.920,1)" font-size="17.2" text-anchor="middle" fill="#000" stroke="#000" stroke-width="1.80">&#8722;</text>
<text transform="translate(103.10,464.6) scale(1.120,1)" font-size="17.0" text-anchor="middle" fill="#000" stroke="#000" stroke-width="1.40">3</text>
<text transform="translate(62.90,611.0) scale(0.828,1)" font-size="27.2" text-anchor="middle" fill="#000" stroke="#000" stroke-width="1.10">1</text>
<text transform="translate(78.70,611.0) scale(1.150,1)" font-size="27.2" text-anchor="middle" fill="#000" stroke="#000" stroke-width="1.10">0</text>
<text transform="translate(92.20,604.6) scale(0.920,1)" font-size="17.2" text-anchor="middle" fill="#000" stroke="#000" stroke-width="1.80">&#8722;</text>
<text transform="translate(103.10,603.8) scale(1.120,1)" font-size="17.0" text-anchor="middle" fill="#000" stroke="#000" stroke-width="1.40">4</text>
<text transform="translate(62.90,750.2) scale(0.828,1)" font-size="27.2" text-anchor="middle" fill="#000" stroke="#000" stroke-width="1.10">1</text>
<text transform="translate(78.70,750.2) scale(1.150,1)" font-size="27.2" text-anchor="middle" fill="#000" stroke="#000" stroke-width="1.10">0</text>
<text transform="translate(92.20,743.9) scale(0.920,1)" font-size="17.2" text-anchor="middle" fill="#000" stroke="#000" stroke-width="1.80">&#8722;</text>
<text transform="translate(103.10,743.0) scale(1.120,1)" font-size="17.0" text-anchor="middle" fill="#000" stroke="#000" stroke-width="1.40">5</text>
<text transform="translate(433.70,814.7) scale(0.828,1)" font-size="31.5" text-anchor="middle" fill="#0000ff" stroke="#0000ff" stroke-width="1.20">1</text>
<text transform="translate(455.20,817.0) scale(0.980,1)" font-size="34.0" text-anchor="middle" fill="#0000ff" stroke="#0000ff" stroke-width="1.20">+</text>
<text transform="translate(476.20,814.7) scale(1.100,1)" font-size="31.5" text-anchor="middle" fill="#0000ff" stroke="#0000ff" stroke-width="1.20">z</text>
<g transform="translate(23.3,420) rotate(-90)">
<text transform="translate(8.80,0.2) scale(0.855,1)" font-size="29.8" text-anchor="middle" fill="#0000ff" stroke="#0000ff" stroke-width="1.40">Q</text>
<text transform="translate(26.20,10.6) scale(0.820,1)" font-size="20.4" text-anchor="middle" fill="#0000ff" stroke="#0000ff" stroke-width="1.60">H</text>
<text transform="translate(45.60,10.6) scale(0.820,1)" font-size="20.4" text-anchor="middle" fill="#0000ff" stroke="#0000ff" stroke-width="1.60">I</text>
<text transform="translate(51.20,10.6) scale(0.820,1)" font-size="20.4" text-anchor="middle" fill="#0000ff" stroke="#0000ff" stroke-width="1.60">I</text>
</g>
</g>
</svg>
</body></html>
